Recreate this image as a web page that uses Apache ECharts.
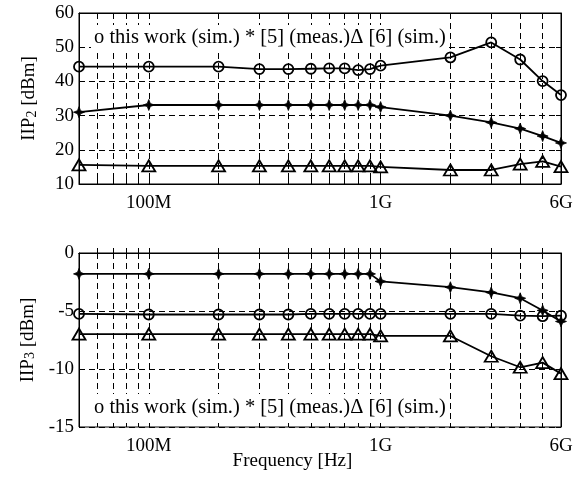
<!DOCTYPE html>
<html>
<head>
<meta charset="utf-8">
<script src="https://cdn.jsdelivr.net/npm/echarts@6/dist/echarts.min.js"></script>
<style>html,body{margin:0;padding:0;background:#fff}#c{width:585px;height:477px}</style>
</head>
<body>
<div id="c"></div>
<script>
const freqs = [50e6,100e6,200e6,300e6,400e6,500e6,600e6,700e6,800e6,900e6,1e9,2e9,3e9,4e9,5e9,6e9];
const iip2This = [44.3,44.3,44.3,43.6,43.6,43.7,43.8,43.8,43.3,43.6,44.6,47,51.4,46.4,40.1,36];
const iip2Ref5 = [31,33.1,33.1,33.1,33.1,33.1,33.1,33.1,33.1,33.1,32.5,30,28,26.2,24,22];
const iip2Ref6 = [15.6,15.3,15.3,15.3,15.3,15.3,15.3,15.3,15.3,15.3,15,14.1,14.1,15.8,16.6,15.1];
const iip3This = [-5.25,-5.3,-5.3,-5.3,-5.3,-5.25,-5.25,-5.25,-5.25,-5.25,-5.25,-5.25,-5.25,-5.4,-5.45,-5.4];
const iip3Ref5 = [-1.8,-1.8,-1.8,-1.8,-1.8,-1.8,-1.8,-1.8,-1.8,-1.8,-2.45,-2.95,-3.4,-3.9,-4.95,-5.9];
const iip3Ref6 = [-7,-7,-7,-7,-7,-7,-7,-7,-7,-7,-7.15,-7.15,-8.9,-9.85,-9.45,-10.4];
const gridTicks = [6e7,7e7,8e7,9e7,1e8,2e8,3e8,4e8,5e8,6e8,7e8,8e8,9e8,1e9,2e9,3e9,4e9,5e9];
const xLabels = [1e8,1e9,6e9];
const labelText = {1e8:'100M',1e9:'1G',6e9:'6G'};
const legendText = 'o this work (sim.) * [5] (meas.)\u0394 [6] (sim.)';

const FONT = 'Liberation Serif';
const dash = [6,4];
function xAx(gridIndex, top) {
  return {
    type:'log', logBase:10, gridIndex, position: top?'top':'bottom',
    min:5e7, max:6e9,
    axisLine:{show:true, lineStyle:{color:'#000', width:1}},
    axisTick:{show:true, inside:true, length:5, customValues:gridTicks, lineStyle:{color:'#000'}},
    axisLabel:{show:!top, customValues:xLabels, formatter:v=>labelText[Math.round(v)]||'',
      color:'#000', fontFamily:FONT, fontSize:19, margin:10},
    splitLine:{show:!top, lineStyle:{color:'#000', type:dash, width:1}},
    minorTick:{show:false}, minorSplitLine:{show:false}
  };
}
function yAx(gridIndex, right, min, max, name) {
  return {
    type:'value', gridIndex, position: right?'right':'left', min, max, interval:5*(max-min>20?2:1),
    axisLine:{show:true, lineStyle:{color:'#000', width:1}},
    axisTick:{show:true, inside:true, length:5, lineStyle:{color:'#000'}},
    axisLabel:{show:!right, color:'#000', fontFamily:FONT, fontSize:19, margin:5},
    splitLine:{show:!right, lineStyle:{color:'#000', type:dash, width:1}},
    name: right ? '' : name, nameLocation:'middle', nameRotate:90, nameGap:40,
    nameTextStyle:{color:'#000', fontFamily:FONT, fontSize:19,
      rich:{a:{fontFamily:FONT, fontSize:19, color:'#000', lineHeight:24, verticalAlign:'bottom'},
            s:{fontFamily:FONT, fontSize:14, color:'#000', lineHeight:14, verticalAlign:'bottom'}}}
  };
}
function pairs(vals){ return freqs.map((f,i)=>[f, vals[i]]); }
const star = 'path://M0,-5 L1.4,-1.4 L5,0 L1.4,1.4 L0,5 L-1.4,1.4 L-5,0 L-1.4,-1.4 Z';
function ser(vals, xi, yi, kind){
  const base = {type:'line', xAxisIndex:xi, yAxisIndex:yi, data:pairs(vals), z:5,
    lineStyle:{color:'#000', width:1.8}, showAllSymbol:true};
  if (kind==='c') Object.assign(base,{symbol:'circle', symbolSize:10, itemStyle:{color:'rgba(0,0,0,0)', borderColor:'#000', borderWidth:1.8}});
  if (kind==='s') Object.assign(base,{symbol:star, symbolSize:11, itemStyle:{color:'#000', borderColor:'#000', borderWidth:0.8}});
  if (kind==='t') Object.assign(base,{symbol:'triangle', symbolSize:[13,11], itemStyle:{color:'rgba(0,0,0,0)', borderColor:'#000', borderWidth:1.8}});
  return base;
}
const chart = echarts.init(document.getElementById('c'), null, {renderer:'canvas'});
chart.setOption({
  animation:false,
  backgroundColor:'#fff',
  title:[
    {text:legendText, left:91, top:25, padding:[2,3,4,3], backgroundColor:'#fff',
     textStyle:{fontFamily:FONT, fontSize:20.5, fontWeight:'normal', color:'#000'}},
    {text:legendText, left:91, top:394, padding:[3,3,3,3], backgroundColor:'#fff',
     textStyle:{fontFamily:FONT, fontSize:20.5, fontWeight:'normal', color:'#000'}},
    {text:'Frequency [Hz]', left:'center', top:447,
     textStyle:{fontFamily:FONT, fontSize:19, fontWeight:'normal', color:'#000'}}
  ],
  grid:[
    {left:79, right:24, top:13, height:171, show:true, borderColor:'#000', borderWidth:1, backgroundColor:'transparent'},
    {left:79, right:24, top:253, height:174, show:true, borderColor:'#000', borderWidth:1, backgroundColor:'transparent'}
  ],
  xAxis:[xAx(0,false), xAx(0,true), xAx(1,false), xAx(1,true)],
  yAxis:[
    yAx(0,false,10,60,'{a|IIP}{s|2}{a| [dBm]}'), yAx(0,true,10,60,''),
    yAx(1,false,-15,0,'{a|IIP}{s|3}{a| [dBm]}'), yAx(1,true,-15,0,'')
  ],
  series:[
    ser(iip2This,0,0,'c'), ser(iip2Ref5,0,0,'s'), ser(iip2Ref6,0,0,'t'),
    ser(iip3This,2,2,'c'), ser(iip3Ref5,2,2,'s'), ser(iip3Ref6,2,2,'t')
  ]
});
</script>
</body>
</html>
